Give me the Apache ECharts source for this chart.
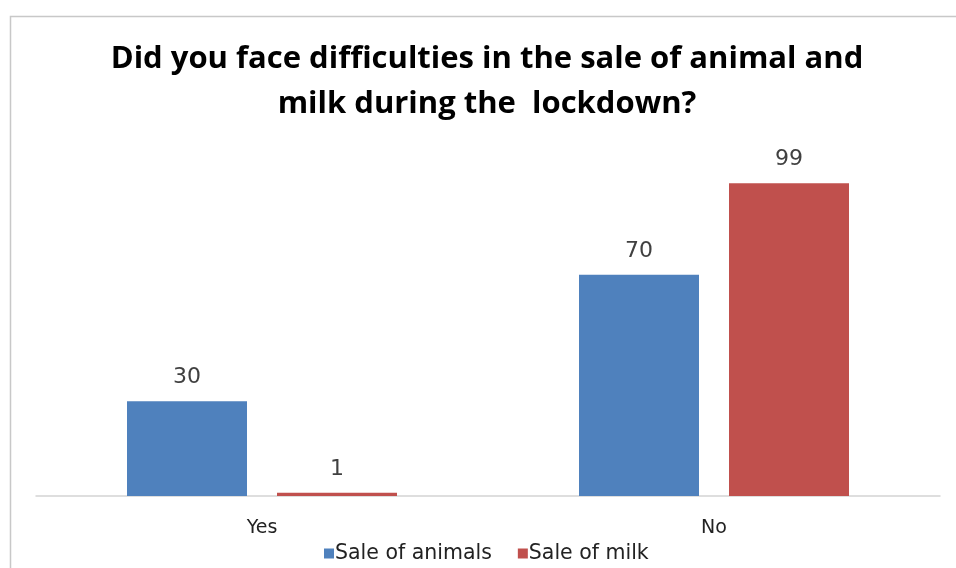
<!DOCTYPE html>
<html>
<head>
<meta charset="utf-8">
<script src="https://cdn.jsdelivr.net/npm/echarts@6/dist/echarts.min.js"></script>
<style>
  html, body { margin: 0; padding: 0; background: #fff; }
  #chart { width: 956px; height: 568px; }
</style>
</head>
<body>
<div id="chart"></div>
<script>
// Survey answers: difficulties selling animals and milk during lockdown
const categories = ['Yes', 'No'];
const saleOfAnimals = [30, 70];
const saleOfMilk = [1, 99];
const seriesNames = ['Sale of animals', 'Sale of milk'];

const chart = echarts.init(document.getElementById('chart'), null, { renderer: 'canvas' });

const TITLE_FONT = '"Open Sans", Lato, sans-serif';
const BODY_FONT = '"DejaVu Sans", "Noto Sans", sans-serif';

const labelStyle = {
  show: true,
  position: 'top',
  distance: 13,
  fontFamily: BODY_FONT,
  fontSize: 22,
  color: '#404040'
};

chart.setOption({
  animation: false,
  backgroundColor: '#fff',
  graphic: [{
    type: 'rect',
    left: 8, top: 14,
    shape: { width: 960, height: 570 },
    style: { fill: 'none', stroke: '#c8c8c8', lineWidth: 1.5 },
    z: 0
  }],
  title: {
    text: 'Did you face difficulties in the sale of animal and\nmilk during the  lockdown?',
    left: 482,
    textAlign: 'center',
    top: 32,
    textStyle: {
      fontFamily: TITLE_FONT,
      fontWeight: 'bold',
      fontSize: 31,
      lineHeight: 45,
      color: '#000'
    }
  },
  legend: {
    data: seriesNames,
    left: 319,
    top: 538,
    itemWidth: 10,
    itemHeight: 10,
    itemGap: 26,
    icon: 'rect',
    textStyle: { fontFamily: BODY_FONT, fontSize: 20.5, color: '#222', padding: [0, 0, 0, -4] }
  },
  grid: { left: 36, right: 16, top: 180, bottom: 72 },
  xAxis: {
    type: 'category',
    data: categories,
    axisLine: { lineStyle: { color: '#d4d4d4', width: 1.5 } },
    axisTick: { show: false },
    axisLabel: { fontFamily: BODY_FONT, fontSize: 19, color: '#222', margin: 23 }
  },
  yAxis: {
    type: 'value',
    min: 0,
    max: 100,
    show: false,
    splitLine: { show: false }
  },
  series: [
    {
      name: seriesNames[0],
      type: 'bar',
      data: saleOfAnimals,
      barWidth: 120,
      barGap: '25%',
      itemStyle: { color: '#4F81BD' },
      label: labelStyle
    },
    {
      name: seriesNames[1],
      type: 'bar',
      data: saleOfMilk,
      barWidth: 120,
      itemStyle: { color: '#C0504D' },
      label: labelStyle
    }
  ]
});
</script>
</body>
</html>
